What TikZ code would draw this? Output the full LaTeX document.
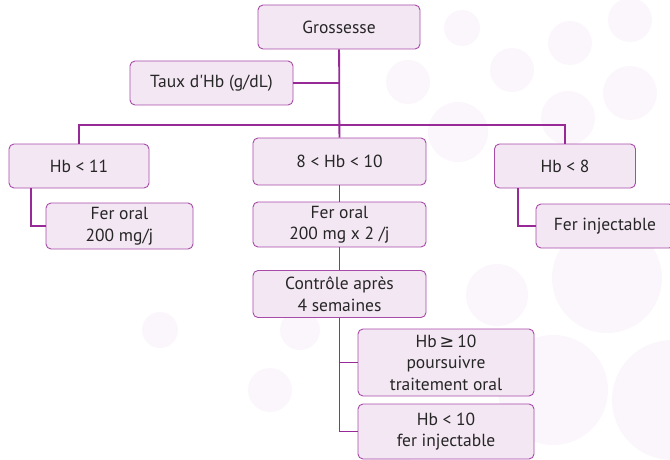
\documentclass[tikz,border=0pt]{standalone}
\usepackage{fontspec}
\setmainfont{PT Sans}
\newfontfamily\symfont{DejaVu Sans}
\definecolor{paars}{HTML}{982A98}
\definecolor{kader}{HTML}{A84AA8}
\definecolor{vulling}{HTML}{F3E7F3}
\definecolor{bol}{HTML}{FBF6FB}
\begin{document}
\begin{tikzpicture}[x=1pt, y=-1pt,
    box/.style={draw=kader, fill=vulling, rounded corners=5pt, line width=0.9pt,
        align=center, inner sep=0pt, font=\fontsize{17.5}{21.5}\selectfont, text=black!85},
    lijn/.style={paars, line width=1.8pt}]
    % achtergrond
    \useasboundingbox (0,0) rectangle (670,460);
    \foreach \x/\y/\r in {462/28/18, 570/43/22, 630/20/22, 512/70/22, 408/82/22,
        630/93/27, 568/118/27, 458/132/30, 607/278/55, 497/295/31, 553/390/55,
        672/400/60, 270/390/22, 300/330/20, 390/445/25, 160/330/18}
        \fill[bol] (\x,\y) circle (\r);

    % knopen
    \node[box, minimum width=162, minimum height=44] (gross) at (339,27) {Grossesse};
    \node[box, minimum width=163, minimum height=44] (taux) at (211.5,83) {Taux d\textquotesingle Hb (g/dL)};
    \node[box, minimum width=140, minimum height=44] (hb11) at (79,166) {Hb < 11};
    \node[box, minimum width=173, minimum height=47] (hb810) at (339.5,161.5) {8 < Hb < 10};
    \node[box, minimum width=141, minimum height=44] (hb8) at (565,166) {Hb < 8};
    \node[box, minimum width=147, minimum height=46] (feroral) at (119.5,226) {Fer oral\\200 mg/j};
    \node[box, minimum width=173, minimum height=45] (ferdubbel) at (339.5,224.5) {Fer oral\\200 mg x 2 /j};
    \node[box, minimum width=138, minimum height=44] (ferinj) at (605,226) {Fer injectable};
    \node[box, minimum width=173, minimum height=47] (controle) at (339.5,294) {Contrôle après\\4 semaines};
    \node[box, minimum width=176, minimum height=67] (hbboven) at (446,362.5) {Hb\,{\symfont ≥}\,10\\poursuivre\\traitement oral};
    \node[box, minimum width=176, minimum height=55] (hbonder) at (446,431.5) {Hb < 10\\fer injectable};
    \coordinate (splits) at (339,125);

    % verbindingen
    \draw[lijn] (gross) -- (hb810);
    \draw[lijn] (taux.east) -- (taux.east -| gross.south);
    \draw[lijn] (hb11.north) |- (splits) -| (hb8.north);
    \draw[lijn] ([xshift=-48pt]hb11.south) |- (feroral.west);
    \draw[lijn] ([xshift=-47pt]hb8.south) |- (ferinj.west);
    \draw[lijn] (hb810) -- (ferdubbel);
    \draw[lijn] (ferdubbel) -- (controle);
    \draw[lijn] (controle.south) |- (hbboven.west);
    \draw[lijn] (controle.south) |- (hbonder.west);
\end{tikzpicture}
\end{document}
